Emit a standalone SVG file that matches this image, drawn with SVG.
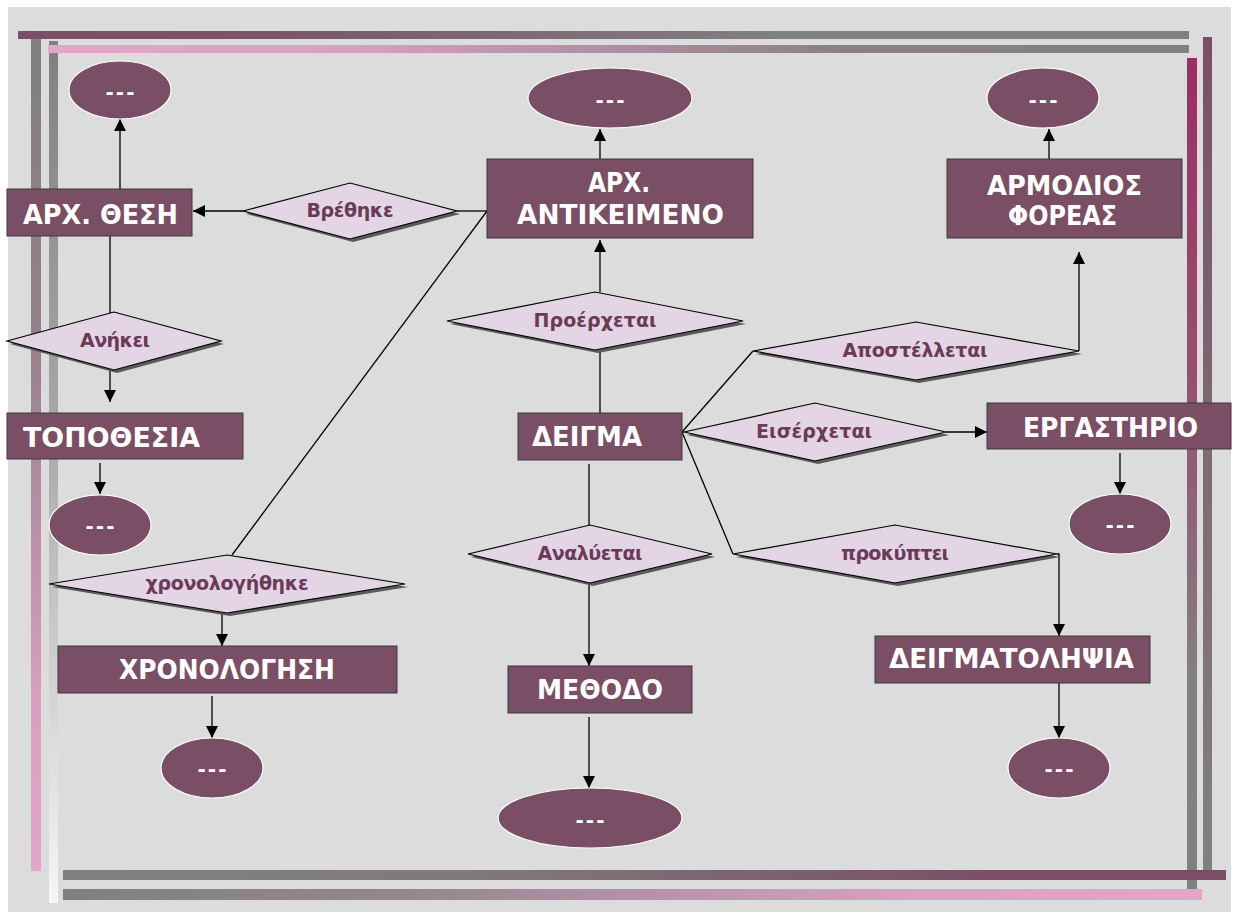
<svg xmlns="http://www.w3.org/2000/svg" width="1234" height="915" viewBox="0 0 1234 915">
<defs>
<style>
.ent{fill:#7a4f65;stroke:#3a3a3a;stroke-width:1}
.ell{fill:#7a4f65;stroke:#ffffff;stroke-width:1.2}
.dia{fill:#e3d5e3;stroke:#000;stroke-width:1.2}
.sh{fill:#5a5a5a}
.nt{font-family:"DejaVu Sans","Liberation Sans",sans-serif;font-weight:bold;font-size:26px;fill:#ffffff}
.dt{font-family:"DejaVu Sans","Liberation Sans",sans-serif;font-weight:bold;font-size:19px;fill:#6b3a5a;text-anchor:middle}
.et{font-family:"DejaVu Sans","Liberation Sans",sans-serif;font-weight:bold;font-size:20px;fill:#ffffff;text-anchor:middle}
.ln{stroke:#000;stroke-width:1.3;fill:none}
.ar{stroke:#000;stroke-width:1.3;fill:none;marker-end:url(#ah)}
</style>
<marker id="ah" viewBox="0 0 12 12" markerWidth="12" markerHeight="12" refX="12" refY="6" orient="auto" markerUnits="userSpaceOnUse">
<path d="M0,0 L12,6 L0,12 z" fill="#000"/>
</marker>
<linearGradient id="gT1" x1="0" y1="0" x2="1" y2="0"><stop offset="0" stop-color="#7a4f65"/><stop offset="0.2" stop-color="#7a5467"/><stop offset="0.65" stop-color="#808080"/><stop offset="1" stop-color="#808080"/></linearGradient>
<linearGradient id="gT2" x1="0" y1="0" x2="1" y2="0"><stop offset="0" stop-color="#e2a6c6"/><stop offset="0.25" stop-color="#d8a2bf"/><stop offset="0.7" stop-color="#8a8086"/><stop offset="1" stop-color="#808080"/></linearGradient>
<linearGradient id="gB1" x1="0" y1="0" x2="1" y2="0"><stop offset="0" stop-color="#808080"/><stop offset="0.35" stop-color="#7f7a7c"/><stop offset="0.8" stop-color="#7a4f65"/><stop offset="1" stop-color="#7a4f65"/></linearGradient>
<linearGradient id="gB2" x1="0" y1="0" x2="1" y2="0"><stop offset="0" stop-color="#808080"/><stop offset="0.3" stop-color="#948690"/><stop offset="0.75" stop-color="#d9a2c0"/><stop offset="1" stop-color="#e2a6c6"/></linearGradient>
<linearGradient id="gL1" x1="0" y1="0" x2="0" y2="1"><stop offset="0" stop-color="#808080"/><stop offset="0.35" stop-color="#957f8b"/><stop offset="0.8" stop-color="#d8a0be"/><stop offset="1" stop-color="#e2a6c6"/></linearGradient>
<linearGradient id="gL2" x1="0" y1="0" x2="0" y2="1"><stop offset="0" stop-color="#808080"/><stop offset="0.45" stop-color="#a8a8a8"/><stop offset="1" stop-color="#f6f6f6"/></linearGradient>
<linearGradient id="gR1" x1="0" y1="0" x2="0" y2="1"><stop offset="0" stop-color="#9b2f60"/><stop offset="0.4" stop-color="#96526f"/><stop offset="0.75" stop-color="#828083"/><stop offset="1" stop-color="#808080"/></linearGradient>
<linearGradient id="gR2" x1="0" y1="0" x2="0" y2="1"><stop offset="0" stop-color="#7a4f65"/><stop offset="0.5" stop-color="#7d6a74"/><stop offset="1" stop-color="#808080"/></linearGradient>
</defs>

<rect x="0" y="0" width="1234" height="915" fill="#ffffff"/>
<rect x="8" y="7" width="1223" height="905" fill="#dcdcdc"/>

<g id="frame">
<rect x="31" y="38" width="10" height="833" fill="url(#gL1)"/>
<rect x="49" y="41" width="9" height="862" fill="url(#gL2)"/>
<rect x="1187" y="58" width="10" height="831" fill="url(#gR1)"/>
<rect x="1203" y="37" width="9" height="841" fill="url(#gR2)"/>
<rect x="18" y="31" width="1171" height="8" fill="url(#gT1)"/>
<rect x="48" y="45" width="1141" height="8" fill="url(#gT2)"/>
<rect x="63" y="870" width="1163" height="10" fill="url(#gB1)"/>
<rect x="63" y="889" width="1139" height="11" fill="url(#gB2)"/>
</g>

<g id="connectors">
<line class="ar" x1="120" y1="189" x2="120" y2="119"/>
<line class="ln" x1="487" y1="211" x2="457" y2="211"/>
<line class="ar" x1="243" y1="211" x2="193" y2="211"/>
<line class="ln" x1="487" y1="211" x2="232" y2="555"/>
<line class="ln" x1="110" y1="236" x2="110" y2="313"/>
<line class="ar" x1="110" y1="370" x2="110" y2="402"/>
<line class="ar" x1="100" y1="463" x2="100" y2="494"/>
<line class="ar" x1="222" y1="613" x2="222" y2="646"/>
<line class="ar" x1="212" y1="696" x2="212" y2="738"/>
<line class="ar" x1="600" y1="159" x2="600" y2="129"/>
<line class="ar" x1="600" y1="292" x2="600" y2="240"/>
<line class="ln" x1="600" y1="350" x2="600" y2="413"/>
<line class="ln" x1="589" y1="464" x2="589" y2="525"/>
<line class="ar" x1="589" y1="583" x2="589" y2="666"/>
<line class="ar" x1="589" y1="717" x2="589" y2="788"/>
<line class="ln" x1="682" y1="432" x2="753" y2="351"/>
<line class="ln" x1="682" y1="432" x2="684" y2="432"/>
<line class="ln" x1="682" y1="432" x2="733" y2="554"/>
<line class="ar" x1="946" y1="432" x2="987" y2="432"/>
<polyline class="ar" points="1079,351 1079,252"/>
<line class="ar" x1="1049" y1="159" x2="1049" y2="129"/>
<line class="ar" x1="1120" y1="453" x2="1120" y2="494"/>
<polyline class="ar" points="1057,554 1059,554 1059,636"/>
<line class="ar" x1="1059" y1="677" x2="1059" y2="738"/>
</g>

<g id="n-ell-thesi"><ellipse class="ell" cx="120" cy="90" rx="51" ry="29"/><text class="et" x="120" y="99" textLength="29">---</text></g>
<g id="n-ell-antikeimeno"><ellipse class="ell" cx="610" cy="98" rx="82" ry="30"/><text class="et" x="610" y="107" textLength="29">---</text></g>
<g id="n-ell-foreas"><ellipse class="ell" cx="1043" cy="98" rx="56" ry="30"/><text class="et" x="1043" y="107" textLength="29">---</text></g>
<g id="n-ell-topothesia"><ellipse class="ell" cx="100" cy="525" rx="51" ry="30"/><text class="et" x="100" y="533" textLength="29">---</text></g>
<g id="n-ell-chronologisi"><ellipse class="ell" cx="212" cy="768" rx="51" ry="30"/><text class="et" x="212" y="776" textLength="29">---</text></g>
<g id="n-ell-methodo"><ellipse class="ell" cx="590" cy="818" rx="92" ry="30"/><text class="et" x="590" y="827" textLength="29">---</text></g>
<g id="n-ell-ergastirio"><ellipse class="ell" cx="1120" cy="524" rx="51" ry="30"/><text class="et" x="1120" y="532" textLength="29">---</text></g>
<g id="n-ell-deigmatolipsia"><ellipse class="ell" cx="1059" cy="768" rx="51" ry="30"/><text class="et" x="1059" y="776" textLength="29">---</text></g>

<g id="n-arch-thesi"><rect class="ent" x="7" y="189" width="185" height="47"/><text class="nt" x="23" y="224" textLength="155" lengthAdjust="spacingAndGlyphs">ΑΡΧ. ΘΕΣΗ</text></g>
<g id="n-arch-antikeimeno"><rect class="ent" x="487" y="159" width="266" height="79"/><text class="nt" x="588" y="192" font-size="24" textLength="62" lengthAdjust="spacingAndGlyphs">ΑΡΧ.</text><text class="nt" x="517" y="224" font-size="24" textLength="207" lengthAdjust="spacingAndGlyphs">ΑΝΤΙΚΕΙΜΕΝΟ</text></g>
<g id="n-armodios"><rect class="ent" x="947" y="159" width="235" height="79"/><text class="nt" x="987" y="195" font-size="25" textLength="155" lengthAdjust="spacingAndGlyphs">ΑΡΜΟΔΙΟΣ</text><text class="nt" x="1008" y="225" font-size="25" textLength="109" lengthAdjust="spacingAndGlyphs">ΦΟΡΕΑΣ</text></g>
<g id="n-topothesia"><rect class="ent" x="7" y="413" width="236" height="46"/><text class="nt" x="23" y="447" textLength="177" lengthAdjust="spacingAndGlyphs">ΤΟΠΟΘΕΣΙΑ</text></g>
<g id="n-chronologisi"><rect class="ent" x="58" y="646" width="339" height="47"/><text class="nt" x="119" y="679" textLength="216" lengthAdjust="spacingAndGlyphs">ΧΡΟΝΟΛΟΓΗΣΗ</text></g>
<g id="n-deigma"><rect class="ent" x="518" y="413" width="164" height="47"/><text class="nt" x="532" y="446" textLength="110" lengthAdjust="spacingAndGlyphs">ΔΕΙΓΜΑ</text></g>
<g id="n-methodo"><rect class="ent" x="508" y="666" width="184" height="47"/><text class="nt" x="537" y="699" textLength="126" lengthAdjust="spacingAndGlyphs">ΜΕΘΟΔΟ</text></g>
<g id="n-ergastirio"><rect class="ent" x="987" y="403" width="244" height="46"/><text class="nt" x="1023" y="437" textLength="175" lengthAdjust="spacingAndGlyphs">ΕΡΓΑΣΤΗΡΙΟ</text></g>
<g id="n-deigmatolipsia"><rect class="ent" x="875" y="636" width="275" height="47"/><text class="nt" x="889" y="668" textLength="245" lengthAdjust="spacingAndGlyphs">ΔΕΙΓΜΑΤΟΛΗΨΙΑ</text></g>

<g id="r-vrethike"><polygon class="sh" points="246,214 353,186 460,214 353,242"/><polygon class="dia" points="243,211 350,183 457,211 350,239"/><text class="dt" x="350" y="217" textLength="87">Βρέθηκε</text></g>
<g id="r-proerchetai"><polygon class="sh" points="450,324 598,295 746,324 598,353"/><polygon class="dia" points="447,321 595,292 743,321 595,350"/><text class="dt" x="595" y="327" textLength="123">Προέρχεται</text></g>
<g id="r-aniki"><polygon class="sh" points="10,344 117,315 224,344 117,373"/><polygon class="dia" points="7,341 114,312 221,341 114,370"/><text class="dt" x="115" y="347" textLength="70">Ανήκει</text></g>
<g id="r-chronologithike"><polygon class="sh" points="52,587 230,558 408,587 230,616"/><polygon class="dia" points="49,584 227,555 405,584 227,613"/><text class="dt" x="227" y="590" textLength="163">χρονολογήθηκε</text></g>
<g id="r-apostelletai"><polygon class="sh" points="756,354 919,325 1082,354 919,383"/><polygon class="dia" points="753,351 916,322 1079,351 916,380"/><text class="dt" x="915" y="357" textLength="145">Αποστέλλεται</text></g>
<g id="r-eiserchetai"><polygon class="sh" points="687,435 818,406 949,435 818,464"/><polygon class="dia" points="684,432 815,403 946,432 815,461"/><text class="dt" x="814" y="438" textLength="116">Εισέρχεται</text></g>
<g id="r-prokyptei"><polygon class="sh" points="736,557 898,528 1060,557 898,586"/><polygon class="dia" points="733,554 895,525 1057,554 895,583"/><text class="dt" x="895" y="560" textLength="108">προκύπτει</text></g>
<g id="r-analyetai"><polygon class="sh" points="471,557 593,528 715,557 593,586"/><polygon class="dia" points="468,554 590,525 712,554 590,583"/><text class="dt" x="590" y="560" textLength="105">Αναλύεται</text></g>
</svg>
